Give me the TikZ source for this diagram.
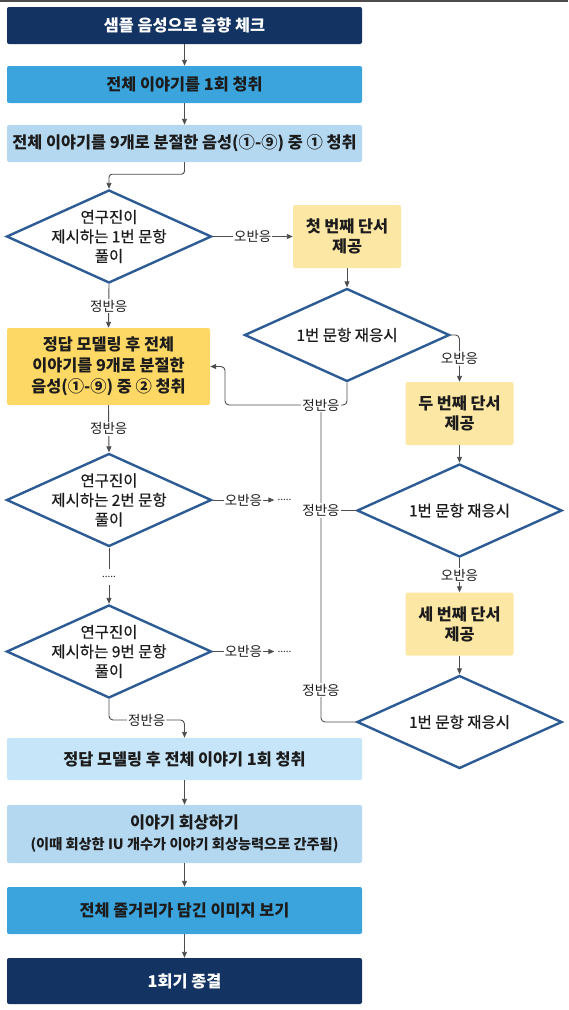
\documentclass[tikz,border=0pt]{standalone}
\usepackage{fontspec}
\setmainfont{Noto Sans CJK KR}
\newfontfamily\medfont{Noto Sans CJK KR}[FakeBold=0.5]
\usetikzlibrary{shapes.geometric,arrows.meta}
\definecolor{navy}{HTML}{133463}
\definecolor{midblue}{HTML}{3BA4DD}
\definecolor{lightblue}{HTML}{B5D8F1}
\definecolor{paleblue}{HTML}{C7E5F8}
\definecolor{bigyellow}{HTML}{FED865}
\definecolor{ysmall}{HTML}{FDE7A5}
\definecolor{diab}{HTML}{2D5B94}
\definecolor{lineg}{HTML}{4D4D4D}
\definecolor{textc}{HTML}{1C1C1C}
\begin{document}
\begin{tikzpicture}[x=1pt,y=-1pt,
  box/.style={rectangle, rounded corners=2pt, minimum width=355pt, align=center, inner sep=0pt, text=textc, font=\bfseries\fontsize{16.3}{21}\selectfont},
  dia/.style={diamond, draw=diab, line width=2.4pt, fill=white, minimum width=205pt, minimum height=93pt, inner sep=0pt},
  ybox/.style={rectangle, rounded corners=2pt, fill=ysmall, minimum width=108pt, minimum height=63pt, align=center, inner sep=0pt, text=textc, font=\bfseries\fontsize{16.3}{20}\selectfont},
  bigy/.style={rectangle, rounded corners=2pt, fill=bigyellow, minimum width=203pt, minimum height=77pt, align=center, inner sep=0pt, text=textc, font=\bfseries\fontsize{16.3}{21}\selectfont},
  conn/.style={draw=lineg, line width=0.9pt, -{Triangle[length=6pt,width=5pt]}},
  plain/.style={draw=lineg, line width=0.9pt},
  lab/.style={fill=white, inner sep=1pt, text=textc, font=\fontsize{13.5}{15}\selectfont},
  dtext/.style={align=center, text=textc, font=\medfont\fontsize{15.5}{19.5}\selectfont},
  dotsh/.style={inner xsep=3pt, inner ysep=0pt, text=textc, font=\fontsize{10}{10}\selectfont},
  dotsv/.style={inner xsep=0pt, inner ysep=7pt, text=textc, font=\fontsize{10}{10}\selectfont}
]
\useasboundingbox (0,0) rectangle (568,1010);
\draw[lineg, line width=1.5pt] (0,0.75) -- (568,0.75);

% left column boxes
\node[box, fill=navy, text=white, minimum height=37pt] (b1) at (184.5,25.5) {샘플 음성으로 음향 체크};
\node[box, fill=midblue, minimum height=37pt] (b2) at (184.5,84.5) {전체 이야기를 1회 청취};
\node[box, fill=lightblue, minimum height=37pt] (b3) at (184.5,143.5) {전체 이야기를 9개로 분절한 음성(①-⑨) 중 ① 청취};

\node[dia, label={[dtext]center:{연구진이\\제시하는 1번 문항\\풀이}}] (d1) at (109,236.5) {};
\node[bigy] (yb) at (108.5,366.5) {정답 모델링 후 전체\\이야기를 9개로 분절한\\음성(①-⑨) 중 ② 청취};
\node[dia, label={[dtext]center:{연구진이\\제시하는 2번 문항\\풀이}}] (d5) at (109,500) {};
\node[dotsv] (v1) at (109,577) {.....};
\node[dia, label={[dtext]center:{연구진이\\제시하는 9번 문항\\풀이}}] (d6) at (109,651.5) {};
\node[dotsh] (h5) at (284.5,500) {.....};
\node[dotsh] (h6) at (284.5,651.5) {.....};

% right column
\node[ybox] (y1) at (347,236.5) {첫 번째 단서\\제공};
\node[dia, label={[dtext]center:{1번 문항 재응시}}] (d2) at (347,335) {};
\node[ybox] (y2) at (459.5,413.5) {두 번째 단서\\제공};
\node[dia, label={[dtext]center:{1번 문항 재응시}}] (d3) at (459.5,510.5) {};
\node[ybox] (y3) at (459.5,624) {세 번째 단서\\제공};
\node[dia, label={[dtext]center:{1번 문항 재응시}}] (d4) at (459.5,722) {};

% bottom boxes
\node[box, fill=paleblue, minimum height=42pt] (b5) at (184.5,759) {정답 모델링 후 전체 이야기 1회 청취};
\node[box, fill=lightblue, minimum height=58pt] (b6) at (184.5,834) {이야기 회상하기\\{\fontsize{14.2}{16}\selectfont (이때 회상한 IU 개수가 이야기 회상능력으로 간주됨)}};
\node[box, fill=midblue, minimum height=47pt] (b7) at (184.5,910.5) {전체 줄거리가 담긴 이미지 보기};
\node[box, fill=navy, text=white, minimum height=46pt] (b8) at (184.5,981) {1회기 종결};

\coordinate (c1) at (225,405);
\coordinate (c2) at (321,405);
\coordinate (c3) at (184.5,720);

% connectors
\draw[conn] (b1) -- (b2);
\draw[conn] (b2) -- (b3);
\draw[conn, rounded corners=3pt] (b3.south) -- ++(0,12) -| (d1.north);
\draw[conn] (d1.east) -- node[lab]{오반응} (y1.west);
\draw[conn] (y1.south) -- (d2.north);
\draw[conn, rounded corners=4pt] (d2.east) -| node[lab, pos=0.75]{오반응} (y2.north);
\draw[conn, rounded corners=4pt] (d2.south) |- (c1) |- (yb.east);
\draw[plain, rounded corners=4pt] (d4.west) -| (c2);
\draw[plain] (d3.west) -- (d3.west -| c2);
\draw[conn] (y2.south) -- (d3.north);
\draw[conn] (d3.south) -- node[lab]{오반응} (y3.north);
\draw[conn] (y3.south) -- (d4.north);
\node[lab] (l1) at (c2) {정반응};
\node[lab] (l2) at (321,510.5) {정반응};
\node[lab] (l3) at (321,690) {정반응};

\draw[conn] (d1.south) -- node[lab]{정반응} (yb.north);
\draw[conn] (yb.south) -- node[lab]{정반응} (d5.north);
\draw[conn] (d5.east) -- node[lab]{오반응} (h5.west);
\draw[plain] (d5.south) -- (v1.north);
\draw[conn] (v1.south) -- (d6.north);
\draw[conn] (d6.east) -- node[lab]{오반응} (h6.west);
\draw[conn, rounded corners=4pt] (d6.south) |- node[lab, pos=0.75]{정반응} (c3) -- (b5.north);
\draw[conn] (b5) -- (b6);
\draw[conn] (b6) -- (b7);
\draw[conn] (b7) -- (b8);
\end{tikzpicture}
\end{document}
